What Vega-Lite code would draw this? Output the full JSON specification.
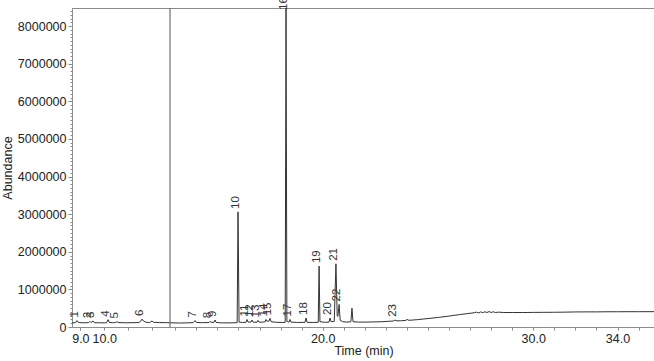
{
  "$schema": "https://vega.github.io/schema/vega-lite/v6.json",
  "autosize": {"type": "none"},
  "padding": {"left": 72, "top": 8, "right": 0, "bottom": 34},
  "width": 583,
  "height": 319,
  "background": "white",
  "config": {
    "view": {"stroke": "#8c8c8c", "strokeWidth": 1},
    "font": "Liberation Sans",
    "axis": {"labelFont": "Liberation Sans", "titleFont": "Liberation Sans", "labelFontSize": 12.5, "titleFontSize": 12.5, "titleFontWeight": "normal", "labelColor": "#222", "titleColor": "#222", "domainColor": "#8c8c8c", "tickColor": "#8c8c8c", "grid": false}
  },
  "datasets": {
    "trace": [
      {"t": 8.65, "a": 110000}, {"t": 8.8, "a": 115000}, {"t": 8.86, "a": 170000}, {"t": 8.92, "a": 118000},
      {"t": 9.1, "a": 112000}, {"t": 9.35, "a": 115000}, {"t": 9.4, "a": 150000}, {"t": 9.45, "a": 118000},
      {"t": 9.53, "a": 160000}, {"t": 9.58, "a": 115000}, {"t": 9.8, "a": 112000}, {"t": 10.0, "a": 110000},
      {"t": 10.1, "a": 115000}, {"t": 10.16, "a": 195000}, {"t": 10.22, "a": 120000}, {"t": 10.35, "a": 115000},
      {"t": 10.48, "a": 118000}, {"t": 10.53, "a": 145000}, {"t": 10.58, "a": 118000}, {"t": 10.9, "a": 112000},
      {"t": 11.2, "a": 115000}, {"t": 11.45, "a": 120000}, {"t": 11.52, "a": 150000}, {"t": 11.58, "a": 210000},
      {"t": 11.64, "a": 160000}, {"t": 11.75, "a": 125000}, {"t": 11.9, "a": 120000}, {"t": 12.0, "a": 160000},
      {"t": 12.05, "a": 125000}, {"t": 12.3, "a": 118000}, {"t": 12.6, "a": 115000}, {"t": 12.75, "a": 112000},
      {"t": 13.2, "a": 105000}, {"t": 13.5, "a": 110000}, {"t": 13.85, "a": 115000}, {"t": 13.94, "a": 170000},
      {"t": 14.0, "a": 120000}, {"t": 14.3, "a": 115000}, {"t": 14.6, "a": 120000}, {"t": 14.65, "a": 150000},
      {"t": 14.7, "a": 125000}, {"t": 14.84, "a": 125000}, {"t": 14.89, "a": 185000}, {"t": 14.94, "a": 120000},
      {"t": 15.2, "a": 110000}, {"t": 15.6, "a": 110000}, {"t": 15.94, "a": 115000}, {"t": 15.98, "a": 3060000},
      {"t": 16.03, "a": 130000}, {"t": 16.2, "a": 120000}, {"t": 16.36, "a": 125000}, {"t": 16.41, "a": 200000},
      {"t": 16.46, "a": 130000}, {"t": 16.59, "a": 130000}, {"t": 16.64, "a": 185000}, {"t": 16.69, "a": 130000},
      {"t": 16.88, "a": 125000}, {"t": 16.93, "a": 175000}, {"t": 16.98, "a": 130000}, {"t": 17.15, "a": 130000},
      {"t": 17.26, "a": 135000}, {"t": 17.31, "a": 200000}, {"t": 17.36, "a": 150000}, {"t": 17.45, "a": 160000},
      {"t": 17.5, "a": 230000}, {"t": 17.55, "a": 140000}, {"t": 17.8, "a": 125000}, {"t": 18.1, "a": 120000},
      {"t": 18.22, "a": 125000}, {"t": 18.26, "a": 8480000}, {"t": 18.3, "a": 150000}, {"t": 18.4, "a": 130000},
      {"t": 18.45, "a": 200000}, {"t": 18.5, "a": 130000}, {"t": 18.8, "a": 120000}, {"t": 19.16, "a": 125000},
      {"t": 19.21, "a": 240000}, {"t": 19.26, "a": 125000}, {"t": 19.5, "a": 120000}, {"t": 19.79, "a": 125000},
      {"t": 19.83, "a": 1620000}, {"t": 19.87, "a": 140000}, {"t": 20.1, "a": 125000}, {"t": 20.3, "a": 130000},
      {"t": 20.35, "a": 240000}, {"t": 20.4, "a": 140000}, {"t": 20.55, "a": 150000}, {"t": 20.63, "a": 1680000},
      {"t": 20.69, "a": 300000}, {"t": 20.72, "a": 280000}, {"t": 20.78, "a": 600000}, {"t": 20.83, "a": 180000},
      {"t": 20.95, "a": 140000}, {"t": 21.15, "a": 130000}, {"t": 21.34, "a": 140000}, {"t": 21.39, "a": 500000},
      {"t": 21.44, "a": 140000}, {"t": 21.7, "a": 130000}, {"t": 22.0, "a": 130000}, {"t": 22.4, "a": 135000},
      {"t": 22.8, "a": 140000}, {"t": 23.1, "a": 150000}, {"t": 23.38, "a": 160000}, {"t": 23.43, "a": 190000},
      {"t": 23.48, "a": 165000}, {"t": 23.7, "a": 165000}, {"t": 23.95, "a": 175000}, {"t": 24.0, "a": 200000},
      {"t": 24.1, "a": 178000}, {"t": 24.5, "a": 195000}, {"t": 25.0, "a": 225000}, {"t": 25.5, "a": 255000},
      {"t": 26.0, "a": 290000}, {"t": 26.5, "a": 330000}, {"t": 27.0, "a": 365000}, {"t": 27.2, "a": 380000},
      {"t": 27.3, "a": 395000}, {"t": 27.4, "a": 375000}, {"t": 27.5, "a": 400000}, {"t": 27.6, "a": 380000},
      {"t": 27.7, "a": 405000}, {"t": 27.8, "a": 385000}, {"t": 27.9, "a": 410000}, {"t": 28.0, "a": 385000},
      {"t": 28.1, "a": 405000}, {"t": 28.2, "a": 385000}, {"t": 28.35, "a": 395000}, {"t": 28.6, "a": 385000},
      {"t": 29.0, "a": 385000}, {"t": 29.5, "a": 385000}, {"t": 30.0, "a": 388000}, {"t": 30.5, "a": 390000},
      {"t": 31.0, "a": 392000}, {"t": 31.5, "a": 395000}, {"t": 32.0, "a": 400000}, {"t": 32.5, "a": 402000},
      {"t": 33.0, "a": 402000}, {"t": 33.5, "a": 405000}, {"t": 34.0, "a": 405000}, {"t": 34.5, "a": 407000},
      {"t": 35.0, "a": 407000}, {"t": 35.78, "a": 408000}
    ],
    "peaks": [
      {"label": "1", "t": 8.86, "a": 170000}, {"label": "2", "t": 9.4, "a": 150000}, {"label": "3", "t": 9.53, "a": 160000},
      {"label": "4", "t": 10.16, "a": 195000}, {"label": "5", "t": 10.53, "a": 145000}, {"label": "6", "t": 11.58, "a": 210000},
      {"label": "7", "t": 13.94, "a": 170000}, {"label": "8", "t": 14.65, "a": 150000}, {"label": "9", "t": 14.89, "a": 185000},
      {"label": "10", "t": 15.98, "a": 3060000}, {"label": "11", "t": 16.41, "a": 200000}, {"label": "12", "t": 16.64, "a": 185000},
      {"label": "13", "t": 16.93, "a": 175000}, {"label": "14", "t": 17.31, "a": 200000}, {"label": "15", "t": 17.5, "a": 230000},
      {"label": "16", "t": 18.26, "a": 8350000}, {"label": "17", "t": 18.45, "a": 200000}, {"label": "18", "t": 19.21, "a": 240000},
      {"label": "19", "t": 19.83, "a": 1620000}, {"label": "20", "t": 20.35, "a": 240000}, {"label": "21", "t": 20.63, "a": 1680000},
      {"label": "22", "t": 20.78, "a": 600000}, {"label": "23", "t": 23.43, "a": 190000}
    ],
    "divider": [{"t": 12.75}]
  },
  "resolve": {"axis": {"x": "independent", "y": "independent"}},
  "layer": [
    {
      "data": {"name": "trace"},
      "mark": {"type": "line", "color": "#333333", "strokeWidth": 1, "clip": true},
      "encoding": {
        "x": {
          "field": "t", "type": "quantitative",
          "scale": {"domain": [8.65, 12.75, 35.78], "range": [0, 98, 583], "nice": false, "zero": false},
          "axis": {
            "title": "Time (min)",
            "orient": "bottom",
            "values": [9, 10, 20, 30, 34],
            "format": ".1f",
            "labelOverlap": false,
            "tickSize": 3,
            "labelPadding": 2,
            "titlePadding": 0
          }
        },
        "y": {
          "field": "a", "type": "quantitative",
          "scale": {"domain": [0, 8480000], "nice": false},
          "axis": {
            "title": "Abundance",
            "orient": "left",
            "values": [0, 1000000, 2000000, 3000000, 4000000, 5000000, 6000000, 7000000, 8000000],
            "format": "d",
            "labelOverlap": false,
            "tickSize": 4,
            "labelPadding": 2,
            "titlePadding": 3
          }
        }
      }
    },
    {
      "data": {"name": "divider"},
      "mark": {"type": "rule", "color": "#707070", "strokeWidth": 1.2},
      "encoding": {"x": {"field": "t", "type": "quantitative", "axis": null}}
    },
    {
      "data": {"name": "peaks"},
      "mark": {"type": "text", "angle": 270, "align": "left", "baseline": "alphabetic", "dx": 3, "dy": 1, "fontSize": 11.5, "color": "#333333", "font": "Liberation Sans"},
      "encoding": {
        "x": {"field": "t", "type": "quantitative",
          "axis": {"orient": "bottom", "title": null, "labels": false, "domain": false, "tickSize": 3,
            "values": [9,11,12,13,14,15,16,17,18,19,21,22,23,24,25,26,27,28,29,31,32,33,35]}},
        "y": {"field": "a", "type": "quantitative",
          "axis": {"orient": "left", "title": null, "labels": false, "domain": false, "tickSize": 2,
            "values": [100000,200000,300000,400000,500000,600000,700000,800000,900000,1100000,1200000,1300000,1400000,1500000,1600000,1700000,1800000,1900000,2100000,2200000,2300000,2400000,2500000,2600000,2700000,2800000,2900000,3100000,3200000,3300000,3400000,3500000,3600000,3700000,3800000,3900000,4100000,4200000,4300000,4400000,4500000,4600000,4700000,4800000,4900000,5100000,5200000,5300000,5400000,5500000,5600000,5700000,5800000,5900000,6100000,6200000,6300000,6400000,6500000,6600000,6700000,6800000,6900000,7100000,7200000,7300000,7400000,7500000,7600000,7700000,7800000,7900000,8100000,8200000,8300000,8400000]}},
        "text": {"field": "label"}
      }
    }
  ]
}
